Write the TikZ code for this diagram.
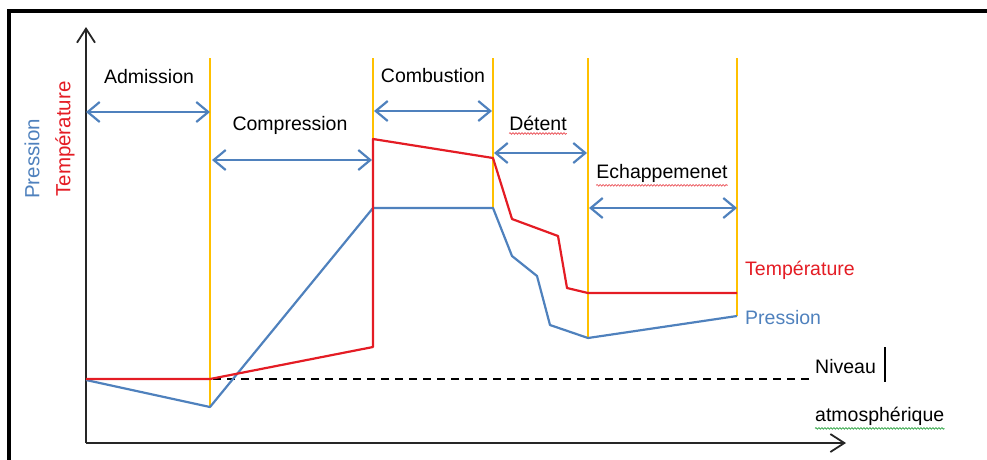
\documentclass[tikz,border=0pt]{standalone}
\usepackage{fontspec}
\setmainfont{Liberation Sans}
\usetikzlibrary{arrows.meta,decorations.pathmorphing}
\definecolor{pblue}{RGB}{79,129,189}
\definecolor{tred}{RGB}{228,28,36}
\definecolor{phase}{RGB}{255,192,0}
\definecolor{wavegreen}{RGB}{60,170,80}
\begin{document}
\begin{tikzpicture}[x=1pt,y=-1pt,
  curve/.style={line width=2.2pt, line join=round},
  axis/.style={line width=1.8pt, black!85},
  phaseline/.style={phase, line width=2pt},
  span/.style={pblue, line width=2.2pt, {Straight Barb[length=12pt,width=20pt]}-{Straight Barb[length=12pt,width=20pt]}},
  lbl/.style={font=\fontsize{19.5}{22}\selectfont, inner sep=0pt},
  vlbl/.style={font=\fontsize{20.5}{23}\selectfont, inner sep=0pt, rotate=90},
  wavy/.style={line width=0.8pt, decorate, decoration={snake, amplitude=0.8pt, segment length=3pt}}]
\useasboundingbox (0,0) rectangle (987,459);
% frame
\coordinate (fbl) at (9,461);
\coordinate (ftl) at (9,11);
\coordinate (ftr) at (989,11);
\draw[line width=3.5pt] (fbl) -- (ftl) -- (ftr);
% axes
\coordinate (O) at (86,443);
\coordinate (ytop) at (86,27);
\coordinate (xend) at (846,443);
\draw[axis, -{Straight Barb[length=14pt,width=18pt]}] (O) -- (ytop);
\draw[axis, -{Straight Barb[length=14pt,width=18pt]}] (O) -- (xend);
% phase lines
\coordinate (p1t) at (210,58); \coordinate (p1b) at (210,407);
\coordinate (p2t) at (373,58); \coordinate (p2b) at (373,347);
\coordinate (p3t) at (493,58); \coordinate (p3b) at (493,208);
\coordinate (p4t) at (588,58); \coordinate (p4b) at (588,338);
\coordinate (p5t) at (737,58); \coordinate (p5b) at (737,316);
\draw[phaseline] (p1t) -- (p1b);
\draw[phaseline] (p2t) -- (p2b);
\draw[phaseline] (p3t) -- (p3b);
\draw[phaseline] (p4t) -- (p4b);
\draw[phaseline] (p5t) -- (p5b);
% atmospheric level
\coordinate (atmA) at (213,379);
\coordinate (atmB) at (810,379);
\draw[line width=1.8pt, dash pattern=on 8pt off 6pt] (atmA) -- (atmB);
% pressure curve
\coordinate (b0) at (86,380);
\coordinate (b1) at (210,407);
\coordinate (b2) at (373,208);
\coordinate (b3) at (493,208);
\coordinate (b4) at (512,256);
\coordinate (b5) at (537,276);
\coordinate (b6) at (550,325);
\coordinate (b7) at (588,338);
\coordinate (b8) at (737,316);
\draw[curve, pblue] (b0) -- (b1) -- (b2) -- (b3) -- (b4) -- (b5) -- (b6) -- (b7) -- (b8);
% temperature curve
\coordinate (r0) at (86,379);
\coordinate (r1) at (210,379);
\coordinate (r2) at (373,347);
\coordinate (r3) at (373,139);
\coordinate (r4) at (493,158);
\coordinate (r5) at (512,219);
\coordinate (r6) at (558,236);
\coordinate (r7) at (567,288);
\coordinate (r8) at (588,293);
\coordinate (r9) at (737,293);
\draw[curve, tred] (r0) -- (r1) -- (r2) -- (r3) -- (r4) -- (r5) -- (r6) -- (r7) -- (r8) -- (r9);
% spans
\coordinate (s1a) at (86,112);  \coordinate (s1b) at (210,112);
\coordinate (s2a) at (212,160); \coordinate (s2b) at (372,160);
\coordinate (s3a) at (374,111); \coordinate (s3b) at (492,111);
\coordinate (s4a) at (494,153); \coordinate (s4b) at (587,153);
\coordinate (s5a) at (589,208); \coordinate (s5b) at (737,208);
\draw[span] (s1a) -- (s1b);
\draw[span] (s2a) -- (s2b);
\draw[span] (s3a) -- (s3b);
\draw[span] (s4a) -- (s4b);
\draw[span] (s5a) -- (s5b);
% phase labels
\node[lbl] (adm) at (149,77) {Admission};
\node[lbl] (comp) at (290,125) {Compression};
\node[lbl] (comb) at (433,76) {Combustion};
\node[lbl] (det) at (538,123) {Détent};
\node[lbl] (ech) at (662,173) {Echappemenet};
% axis labels
\node[vlbl, text=pblue] (ylp) at (32,159) {Pression};
\node[vlbl, text=tred] (ylt) at (65,139) {Température};
% curve labels
\node[lbl, text=tred, anchor=west] (tlab) at (745,270) {Température};
\node[lbl, text=pblue, anchor=west] (plab) at (745,318) {Pression};
\node[lbl, anchor=west] (niv) at (815,367) {Niveau};
\node[lbl, anchor=west] (atm) at (815,416) {atmosphérique};
% cursor bar
\coordinate (curT) at (885,347);
\coordinate (curB) at (885,382);
\draw[line width=2pt] (curT) -- (curB);
% spell-check underlines
\draw[wavy, tred!70] ([yshift=-3pt]det.south west) -- ([yshift=-3pt]det.south east);
\draw[wavy, tred!70] ([yshift=-3pt]ech.south west) -- ([yshift=-3pt]ech.south east);
\draw[wavy, wavegreen] ([yshift=-3pt]atm.south west) -- ([yshift=-3pt]atm.south east);
\end{tikzpicture}
\end{document}
